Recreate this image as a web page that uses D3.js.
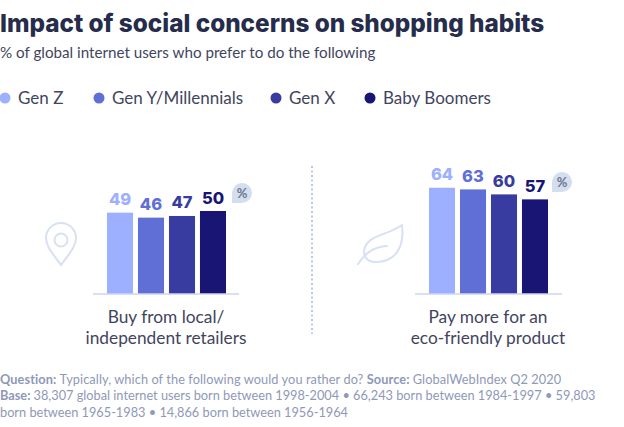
<!DOCTYPE html>
<html>
<head>
<meta charset="utf-8">
<script src="https://cdn.jsdelivr.net/npm/d3@7"></script>
<style>
html, body { margin: 0; padding: 0; background: #fff; }
svg { display: block; font-family: Lato, sans-serif; }
</style>
</head>
<body>
<svg id="chart" width="624" height="427"></svg>
<script>
var generations = ["Gen Z", "Gen Y/Millennials", "Gen X", "Baby Boomers"];
var colors = ["#9dafff", "#5f6fd6", "#383b9f", "#191575"];
var localValues = [49, 46, 47, 50];
var ecoValues = [64, 63, 60, 57];
var legendX = [5, 99, 276, 370];

var svg = d3.select("#chart");

var yScale = d3.scaleLinear().domain([0, 100]).range([294, 128]);

var drawPanel = function(values, left, right, lineLeft, lineRight, labels, labelX) {
    var xScale = d3.scaleBand()
        .domain(generations)
        .range([left, right])
        .paddingInner(0.16)
        .paddingOuter(0);

    var g = svg.append("g");

    g.selectAll("rect")
        .data(values)
        .enter()
        .append("rect")
        .attr("x", function(d, i) { return xScale(generations[i]); })
        .attr("y", function(d) { return yScale(d); })
        .attr("width", xScale.bandwidth())
        .attr("height", function(d) { return yScale(0) - yScale(d); })
        .attr("fill", function(d, i) { return colors[i]; });

    g.selectAll(".value")
        .data(values)
        .enter()
        .append("text")
        .attr("class", "value")
        .attr("x", function(d, i) { return xScale(generations[i]) + xScale.bandwidth() / 2; })
        .attr("y", function(d) { return yScale(d) - 7.5; })
        .attr("text-anchor", "middle")
        .attr("font-family", "Inter, sans-serif")
        .attr("font-size", 16.5)
        .attr("font-weight", 800)
        .attr("fill", function(d, i) { return colors[i]; })
        .text(function(d) { return d; });

    g.append("line")
        .attr("x1", lineLeft)
        .attr("x2", lineRight)
        .attr("y1", yScale(0))
        .attr("y2", yScale(0))
        .attr("stroke", "#ccd6ec")
        .attr("stroke-width", 1.5);

    g.selectAll(".cat")
        .data(labels)
        .enter()
        .append("text")
        .attr("class", "cat")
        .attr("x", labelX)
        .attr("y", function(d, i) { return 323 + i * 20.5; })
        .attr("text-anchor", "middle")
        .attr("font-size", 17.3)
        .attr("fill", "#3f4560")
        .text(function(d) { return d; });
};

// little % speech bubble beside each panel
var drawBadge = function(cx, cy) {
    var r = 10;
    svg.append("path")
        .attr("d", "M" + (cx - r) + "," + (cy + r) + "V" + cy + "A" + r + "," + r + " 0 1 1 " + cx + "," + (cy + r) + "Z")
        .attr("fill", "#d3deef");
    svg.append("text")
        .attr("x", cx)
        .attr("y", cy + 4.5)
        .attr("text-anchor", "middle")
        .attr("font-size", 13)
        .attr("font-weight", 700)
        .attr("fill", "#6d7690")
        .text("%");
};

// title block
svg.append("text").attr("x", 0).attr("y", 32)
    .attr("font-family", "Inter, sans-serif")
    .attr("font-size", 24.3).attr("font-weight", 800).attr("fill", "#262c4b")
    .text("Impact of social concerns on shopping habits");
svg.append("text").attr("x", 0).attr("y", 57.5)
    .attr("font-size", 15.2).attr("fill", "#3f4560")
    .text("% of global internet users who prefer to do the following");

// legend
var legend = svg.selectAll(".legend")
    .data(generations)
    .enter()
    .append("g")
    .attr("class", "legend")
    .attr("transform", function(d, i) { return "translate(" + legendX[i] + ",98)"; });
legend.append("circle")
    .attr("r", 5.5)
    .attr("fill", function(d, i) { return colors[i]; });
legend.append("text")
    .attr("x", 13)
    .attr("y", 6)
    .attr("font-size", 17)
    .attr("fill", "#3f4560")
    .text(function(d) { return d; });

drawPanel(localValues, 107, 226, 93, 239, ["Buy from local/", "independent retailers"], 166);
drawPanel(ecoValues, 429, 548, 415, 562, ["Pay more for an", "eco-friendly product"], 488);
drawBadge(242, 193);
drawBadge(562, 182);

// dotted divider
svg.append("line")
    .attr("x1", 312).attr("x2", 312).attr("y1", 166).attr("y2", 334)
    .attr("stroke", "#b9c6e4").attr("stroke-width", 2).attr("stroke-dasharray", "2 2.5");

// pin icon
var iconStyle = function(sel) {
    sel.attr("fill", "none").attr("stroke", "#d7e1f3").attr("stroke-width", 2).attr("stroke-linecap", "round");
};
svg.append("path")
    .attr("d", "M61,265 C54,255 46,247 46,238 A15,15 0 1 1 76,238 C76,247 68,255 61,265 Z")
    .call(iconStyle);
svg.append("circle").attr("cx", 61).attr("cy", 240).attr("r", 6.5).call(iconStyle);

// leaf icon
svg.append("path")
    .attr("d", "M402,225 C405,250 393,262 376,262 C367,262 362,256 365,247 C370,235 388,235 402,225 Z")
    .call(iconStyle);
svg.append("path")
    .attr("d", "M358,264 C366,252 374,247 387,246")
    .call(iconStyle);

// footer
var footer = [
    [["Question: ", 1], ["Typically, which of the following would you rather do? ", 0], ["Source: ", 1], ["GlobalWebIndex Q2 2020", 0]],
    [["Base: ", 1], ["38,307 global internet users born between 1998-2004 • 66,243 born between 1984-1997 • 59,803", 0]],
    [["born between 1965-1983 • 14,866 born between 1956-1964", 0]]
];
var footerSpacing = [0.09, 0, 0];
footer.forEach(function(line, i) {
    var t = svg.append("text")
        .attr("x", 0)
        .attr("y", 384 + i * 16.4)
        .attr("font-size", 12.75)
        .attr("letter-spacing", footerSpacing[i])
        .attr("fill", "#8f98b8");
    line.forEach(function(part) {
        t.append("tspan")
            .attr("font-weight", part[1] ? 700 : 400)
            .text(part[0]);
    });
});
</script>
</body>
</html>
